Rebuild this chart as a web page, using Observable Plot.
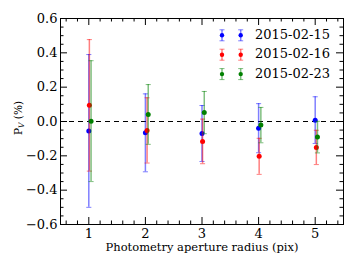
<!DOCTYPE html>
<html><head><meta charset="utf-8">
<script src="https://cdn.jsdelivr.net/npm/d3@7"></script>
<script src="https://cdn.jsdelivr.net/npm/@observablehq/plot@0.6"></script>
<style>body{margin:0;background:#fff} svg, svg text{font-family:"DejaVu Serif" !important;}</style>
</head><body><div id="chart"></div>
<script>
const dates = ["2015-02-15", "2015-02-16", "2015-02-23"];
const colors = ["#0000ff", "#ff0000", "#008000"];
const xBlue = [1, 2, 3, 4, 5];
const yBlue = [-0.055, -0.066, -0.07, -0.039, 0.008];
const eBlue = [0.445, 0.227, 0.163, 0.143, 0.136];
const xRed = [1.01, 2.03, 3.01, 4.01, 5.02];
const yRed = [0.094, -0.052, -0.116, -0.203, -0.151];
const eRed = [0.383, 0.19, 0.13, 0.105, 0.1];
const xGreen = [1.04, 2.05, 3.04, 4.04, 5.04];
const yGreen = [0.002, 0.041, 0.052, -0.021, -0.091];
const eGreen = [0.352, 0.174, 0.123, 0.103, 0.092];
const xTicks = [1, 2, 3, 4, 5];
const yTicks = [-0.6, -0.4, -0.2, 0, 0.2, 0.4, 0.6];
const xLabel = "Photometry aperture radius (pix)";

const W = 354, H = 265;
const mL = 60, mR = 11, mT = 18, mB = 41;
const pw = W - mL - mR, ph = H - mT - mB;

const seriesX = [xBlue, xRed, xGreen];
const seriesY = [yBlue, yRed, yGreen];
const seriesE = [eBlue, eRed, eGreen];
const series = dates.map((d, i) => seriesX[i].map((x, j) => ({
  date: d, color: colors[i], x, y: seriesY[i][j], e: seriesE[i][j]
})));

const xMinor = d3.range(0.6, 5.41, 0.2).map(v => +v.toFixed(2)).filter(v => !xTicks.some(t => Math.abs(t - v) < 1e-6));
const yMinor = d3.range(-0.6, 0.601, 0.05).map(v => +v.toFixed(2)).filter(v => !yTicks.some(t => Math.abs(t - v) < 1e-6));

const cap = 0.045;
const marks = [
  Plot.ruleY([0], {stroke: "black", strokeDasharray: "5,4", strokeWidth: 1}),
];
series.forEach(s => {
  marks.push(Plot.ruleX(s, {x: "x", y1: d => d.y - d.e, y2: d => d.y + d.e, stroke: "color", strokeOpacity: 0.5, strokeWidth: 1.5}));
  marks.push(Plot.link(s, {x1: d => d.x - cap, x2: d => d.x + cap, y1: d => d.y + d.e, y2: d => d.y + d.e, stroke: "color", strokeOpacity: 0.5, strokeWidth: 1}));
  marks.push(Plot.link(s, {x1: d => d.x - cap, x2: d => d.x + cap, y1: d => d.y - d.e, y2: d => d.y - d.e, stroke: "color", strokeOpacity: 0.5, strokeWidth: 1}));
  marks.push(Plot.dot(s, {x: "x", y: "y", r: 2.5, fill: "color", stroke: null}));
});
marks.push(
  Plot.tickX(xTicks, {x: d => d, insetTop: ph - 7, stroke: "black"}),
  Plot.tickX(xTicks, {x: d => d, insetBottom: ph - 7, stroke: "black"}),
  Plot.tickX(xMinor, {x: d => d, insetTop: ph - 3.5, stroke: "black"}),
  Plot.tickX(xMinor, {x: d => d, insetBottom: ph - 3.5, stroke: "black"}),
  Plot.tickY(yTicks, {y: d => d, insetRight: pw - 7, stroke: "black"}),
  Plot.tickY(yTicks, {y: d => d, insetLeft: pw - 7, stroke: "black"}),
  Plot.tickY(yMinor, {y: d => d, insetRight: pw - 3.5, stroke: "black"}),
  Plot.tickY(yMinor, {y: d => d, insetLeft: pw - 3.5, stroke: "black"}),
  Plot.axisX({ticks: xTicks, tickSize: 0, tickPadding: 4, fontSize: 13, label: null, tickFormat: d3.format("d")}),
  Plot.axisY({ticks: yTicks, tickSize: 0, tickPadding: 3, fontSize: 13, label: null, tickFormat: d3.format(".1f")}),
  Plot.text([xLabel], {text: d => d, frameAnchor: "bottom", dy: 23, fontSize: 11.5, lineAnchor: "middle", fill: "black"}),
  Plot.frame({stroke: "black", strokeWidth: 1})
);

const chart = Plot.plot({
  width: W, height: H,
  marginLeft: mL, marginRight: mR, marginTop: mT, marginBottom: mB,
  style: {fontFamily: "'DejaVu Serif'", color: "black", background: "white"},
  x: {domain: [0.5, 5.5]},
  y: {domain: [-0.6, 0.6]},
  marks
});
document.getElementById("chart").appendChild(chart);

// y-axis label with italic subscript
const svg = d3.select(chart);
const yl = svg.append("text")
  .attr("transform", `translate(19,${mT + ph / 2 - 3}) rotate(-90)`)
  .attr("text-anchor", "middle").attr("dominant-baseline", "middle")
  .attr("font-size", 10.5).attr("fill", "black");
yl.append("tspan").text("P");
yl.append("tspan").attr("font-size", 7.5).attr("font-style", "italic").attr("dy", 2.5).text("V");
yl.append("tspan").attr("dy", -2.5).text(" (%)");

// legend
const lg = svg.append("g");
dates.forEach((d, i) => {
  const cy = 35.3 + i * 19.4;
  [222, 240.7].forEach(cx => {
    lg.append("line").attr("x1", cx).attr("x2", cx).attr("y1", cy - 5.5).attr("y2", cy + 5.5)
      .attr("stroke", colors[i]).attr("stroke-opacity", 0.5).attr("stroke-width", 1.5);
    [cy - 5.5, cy + 5.5].forEach(yy => lg.append("line").attr("x1", cx - 2.5).attr("x2", cx + 2.5)
      .attr("y1", yy).attr("y2", yy).attr("stroke", colors[i]).attr("stroke-opacity", 0.5));
    lg.append("circle").attr("cx", cx).attr("cy", cy).attr("r", 2.2).attr("fill", colors[i]);
  });
  lg.append("text").attr("x", 255).attr("y", cy).attr("text-anchor", "start").attr("dominant-baseline", "middle")
    .attr("font-size", 13).attr("fill", "black").text(d);
});
</script>
</body></html>
